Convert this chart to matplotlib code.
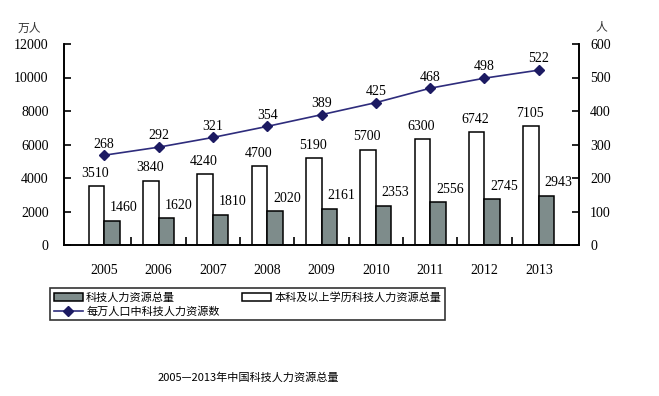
#!/usr/bin/env python3
# -*- coding: utf-8 -*-

import numpy as np
import matplotlib
matplotlib.use("Agg")
import matplotlib.pyplot as plt
from matplotlib.ticker import FixedLocator

years = ['2005', '2006', '2007', '2008', '2009', '2010', '2011', '2012', '2013']
degree_total = [3510, 3840, 4240, 4700, 5190, 5700, 6300, 6742, 7105]
hr_total = [1460, 1620, 1810, 2020, 2161, 2353, 2556, 2745, 2943]
per_10k = [268, 292, 321, 354, 389, 425, 468, 498, 522]

label_hr = '科技人力资源总量'
label_degree = '本科及以上学历科技人力资源总量'
label_line = '每万人口中科技人力资源数'
title = '2005—2013年中国科技人力资源总量'

cjk = ['Noto Sans CJK SC', 'DejaVu Sans']
num_font = 'Liberation Serif'

grey = '#7e8c8b'
navy = '#2e2c7c'


def main():
    fig = plt.figure(figsize=(6.59, 3.96), dpi=100)
    ax = fig.add_axes([64 / 659, 1 - 245 / 396, 515 / 659, 201 / 396])
    ax2 = ax.twinx()

    x = np.arange(len(years))
    w = 0.285
    b_deg = ax.bar(x - w / 2, degree_total, w, color='white', edgecolor='black', linewidth=1.1)
    b_hr = ax.bar(x + w / 2, hr_total, w, color=grey, edgecolor='black', linewidth=1.1)
    ln, = ax2.plot(x, per_10k, color=navy, lw=1.2, marker='D', ms=5,
                   markerfacecolor='#1c1a62', markeredgecolor='#1c1a62')

    for xi, v in zip(x, degree_total):
        ax.text(xi - w / 2 - 0.02, v + 380, str(v), ha='center', va='bottom',
                family=num_font, fontsize=10)
    for xi, v in zip(x, hr_total):
        ax.text(xi + w / 2 + 0.22, v + 380, str(v), ha='center', va='bottom',
                family=num_font, fontsize=10)
    for xi, v in zip(x, per_10k):
        ax2.text(xi, v + 14, str(v), ha='center', va='bottom',
                 family=num_font, fontsize=10)

    ax.set_xlim(-0.74, len(years) - 1 + 0.74)
    ax.set_ylim(0, 12000)
    ax2.set_ylim(0, 600)
    ax.set_yticks(range(0, 12001, 2000))
    ax2.set_yticks(range(0, 601, 100))
    ax.set_xticks(x)
    ax.set_xticklabels(years)
    ax.xaxis.set_minor_locator(FixedLocator(x[:-1] + 0.5))

    for a in (ax, ax2):
        a.spines['top'].set_visible(False)
        for s in ('left', 'right', 'bottom'):
            a.spines[s].set_linewidth(1.2)
        for lab in a.get_yticklabels() + a.get_xticklabels():
            lab.set_family(num_font)
            lab.set_fontsize(10)
    ax.tick_params(axis='x', which='major', length=0, pad=14)
    ax.tick_params(axis='x', which='minor', direction='in', length=6, width=1.2)
    ax.tick_params(axis='y', direction='in', length=5, width=1.2, pad=11)
    ax2.tick_params(axis='y', direction='in', length=5, width=1.2, pad=8)

    fig.text(29 / 659, 1 - 28 / 396, '万人', family=cjk, fontsize=8.5,
             ha='center', va='center', color='#333333')
    fig.text(601 / 659, 1 - 27 / 396, '人', family=cjk, fontsize=8.5,
             ha='center', va='center', color='#333333')

    leg = fig.legend([b_hr, ln, b_deg], [label_hr, label_line, label_degree],
                     ncol=2, loc='upper left',
                     bbox_to_anchor=(50 / 659, 1 - 288 / 396, 395 / 659, 0.0),
                     mode='expand', prop={'family': cjk, 'size': 8},
                     frameon=True, fancybox=False, edgecolor='black',
                     handlelength=2.6, handletextpad=0.3, labelspacing=0.3,
                     borderpad=0.35, borderaxespad=0)
    leg.get_frame().set_linewidth(1.2)

    fig.text(248 / 659, 1 - 378 / 396, title, family=cjk, fontsize=8,
             ha='center', va='center')

    fig.savefig('out.png', dpi=100)


if __name__ == '__main__':
    main()
